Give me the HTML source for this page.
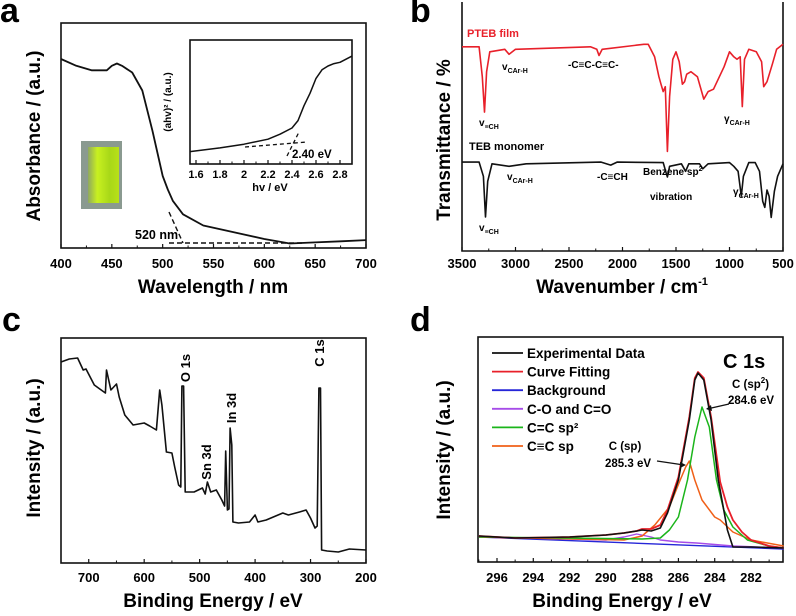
<!DOCTYPE html>
<html><head><meta charset="utf-8">
<style>
html,body{margin:0;padding:0;background:#fff;}
svg{display:block;font-family:"Liberation Sans",Arial,sans-serif;font-weight:bold;}
</style></head>
<body>
<svg id="fig" width="796" height="616" viewBox="0 0 796 616" xmlns="http://www.w3.org/2000/svg"></svg>
<script>
// ---------- Panel a: UV-vis absorbance ----------
const aWavelength = [400,415,430,445,450,455,460,470,480,490,500,505,510,520,540,560,580,600,625,650,675,700];
const aAbsorbance = [0.84,0.81,0.79,0.79,0.81,0.82,0.81,0.78,0.70,0.52,0.32,0.26,0.21,0.15,0.10,0.08,0.06,0.04,0.02,0.025,0.03,0.035];
const aTicks = [400,450,500,550,600,650,700];
// inset Tauc plot
const insetEnergy = [1.55,1.8,2.0,2.2,2.3,2.4,2.45,2.5,2.55,2.6,2.65,2.7,2.75,2.8,2.9];
const insetValue  = [0.10,0.13,0.16,0.20,0.24,0.29,0.35,0.47,0.57,0.69,0.76,0.79,0.81,0.82,0.87];
const insetTicks = [1.6,1.8,2.0,2.2,2.4,2.6,2.8];
// ---------- Panel b: FTIR ----------
const bTicks = [3500,3000,2500,2000,1500,1000,500];
const bRedWn = [3500,3340,3310,3290,3270,3240,3100,3060,3000,2300,2240,2220,2190,1800,1760,1700,1660,1640,1620,1600,1580,1560,1530,1500,1470,1440,1420,1400,1360,1300,1240,1200,1150,1050,1000,960,930,900,880,860,820,750,700,680,650,600,560,500];
const bRedT  = [82,82,70,55.8,72,80,81,79,81,82,81,78.5,81,83,83,78,70,67,64,66,40,62,77,80,76,67,68,71,72,70,61,64,65,74,80,78,77,78,58,77,81,80,76,66,68,75,81,83];
const bBlkWn = [3500,3340,3300,3280,3260,3220,3060,2900,2200,2110,2050,1620,1590,1580,1560,1450,1410,1380,1280,1250,1200,1000,960,920,890,870,820,760,720,690,670,650,630,610,580,550,500];
const bBlkT  = [35.7,35.7,30,13.7,28,35,34,35,35.7,34.5,35.7,35.5,31,29.7,34,35,32,35,35,33,35,35.5,34,32,22,30,35.5,35.5,32,20,17.5,24.5,22,13.5,24,30,35];
// ---------- Panel c: XPS survey ----------
const cTicks = [700,600,500,400,300,200];
const cEnergy = [750,735,720,710,705,690,680,670,668,660,650,645,635,620,600,590,578,572,568,560,550,545,538,534,532,529,526,510,495,490,486,480,470,460,455,453,450,447,445,442,440,430,410,400,395,380,350,340,320,308,300,292,288,285,282,280,270,250,230,200];
const cIntensity = [201,204,205,193,194,178,174,170,193,173,179,166,148,138,140,137,133,173,158,111,110,96,78,76,177,177,71,71,75,69,81,71,73,63,57,112,53,54,135,118,41,40,41,48,41,43,50,48,51,53,45,35,37,175,175,13,12,11,14,13];
// ---------- Panel d: C 1s ----------
const dTicks = [296,294,292,290,288,286,284,282];
const dExpE = [297,295,292,290,289,288.3,288,287.5,287,286.6,286,285.4,285.1,284.92,284.6,284.2,283.8,283.3,283.0,282,280.2];
const dExpI = [26,24,25,27,29,31,32,31,34,49,82,142,182,189,182,142,82,32,15,15,14];
const dFitE = [297,295,292,290,289,288.3,288,287.5,287,286.6,286,285.4,285.1,284.92,284.6,284.2,283.7,283.3,283,282.5,282,281,280.2];
const dFitI = [26,24,25,27,29,31,33,33,37,52,85,145,184,190,184,145,80,55,42,30,22,16,14];
const dBgE = [297,280.2];
const dBgI = [25,13];
const dCOE = [297,292,290,289,288.3,287.5,287,286,285,283,280.2];
const dCOI = [25,23,22,25,28,25,22,20,19,16,14];
const dSp2E = [297,288,287,286.5,286,285.5,285.1,284.7,284.3,283.9,283.5,283,282.2,281,280.2];
const dSp2I = [25,23,24,32,45,82,125,155,135,82,52,35,22,16,14];
const dSpE = [297,289,288,287.3,286.5,285.9,285.6,285.4,285.1,284.7,284,283.7,283,282,280.2];
const dSpI = [25,22,26,37,55,82,95,101,82,62,45,42,30,22,16];
const dLegend = ["Experimental Data","Curve Fitting","Background","C-O and C=O","C=C sp²","C≡C sp"];
const dColors = ["#111","#e8202a","#2626d8","#a64ce8","#1bb51b","#f06018"];

const NS="http://www.w3.org/2000/svg";
const svg=document.getElementById('fig');
function mk(tag,attrs,parent){const e=document.createElementNS(NS,tag);for(const k in attrs)e.setAttribute(k,attrs[k]);(parent||svg).appendChild(e);return e;}
function lin(d0,d1,r0,r1){return v=>r0+(v-d0)*(r1-r0)/(d1-d0);}
function txt(x,y,s,size,anchor,name,extra){const t=mk('text',Object.assign({x:x,y:y,'font-size':size,'text-anchor':anchor||'start'},extra||{}));t.textContent=s;


return t;}
function path(xs,ys,sx,sy,color,w,name){let d='';for(let i=0;i<xs.length;i++)d+=(i?'L':'M')+sx(xs[i]).toFixed(1)+' '+sy(ys[i]).toFixed(1);
const p=mk('path',{d:d,fill:'none',stroke:color,'stroke-width':w,'stroke-linejoin':'round'});


return p;}
function frame(x0,y0,x1,y1,name){const r=mk('rect',{x:x0,y:y0,width:x1-x0,height:y1-y0,fill:'none',stroke:'#111','stroke-width':1.6});


return r;}
function xticks(ticks,sx,yb,ly,size,name,minor){ticks.forEach(t=>{const x=sx(t);mk('line',{x1:x,x2:x,y1:yb,y2:yb-4,stroke:'#111','stroke-width':1.2});
txt(x,ly,String(t),size,'middle',name);});
if(minor)minor.forEach(t=>{const x=sx(t);mk('line',{x1:x,x2:x,y1:yb,y2:yb-2.5,stroke:'#111','stroke-width':1});});}

// ===== Panel a =====
txt(0,22,'a',34,'start','panel-label-a');
const aX=lin(400,700,61,366), aY=lin(0,1,248,23);
frame(61,23,366,248,'plot-frame-a');
xticks(aTicks,aX,248,268,13,'x-tick-label-a',[425,475,525,575,625,675]);
txt(213,293,'Wavelength / nm',19,'middle','x-axis-title-a');
txt(0,0,'Absorbance / (a.u.)',19,'middle','y-axis-title-a',{transform:'translate(40,136) rotate(-90)'});
path(aWavelength,aAbsorbance,aX,aY,'#111',1.8,'absorbance-curve');
mk('path',{d:'M169 212 L183 243 M169 243 L305 243',stroke:'#111','stroke-width':1.4,'stroke-dasharray':'5 3',fill:'none'});
txt(135,239,'520 nm',12.5,'start','annotation-520nm');
const g=mk('defs',{});
const lg=mk('linearGradient',{id:'gp',x1:0,y1:0,x2:1,y2:0},g);
mk('stop',{offset:0,'stop-color':'#8fa860'},lg);mk('stop',{offset:0.3,'stop-color':'#c8f020'},lg);mk('stop',{offset:0.7,'stop-color':'#a8d818'},lg);mk('stop',{offset:1,'stop-color':'#b8e018'},lg);
const ph=mk('rect',{x:81,y:141,width:41,height:68,fill:'#8a9a90'});

mk('rect',{x:88,y:147,width:31,height:56,fill:'url(#gp)'});
// inset
const iX=lin(1.6,2.8,196,340), iY=lin(0,1,164,40);
frame(190,40,352,164,'inset-frame');
xticks(insetTicks,iX,164,178,11,'inset-x-tick-label',[1.7,1.9,2.1,2.3,2.5,2.7]);
txt(270,191,'hv / eV',11,'middle','inset-x-axis-title');
txt(0,0,'(ahv)² / (a.u.)',10,'middle','inset-y-axis-title',{transform:'translate(171,102) rotate(-90)'});
path(insetEnergy,insetValue,iX,iY,'#111',1.5,'tauc-curve');
mk('path',{d:'M245 147 L307 142 M287 156 L299 132',stroke:'#111','stroke-width':1.3,'stroke-dasharray':'4 3',fill:'none'});
txt(292,158,'2.40 eV',11.5,'start','annotation-2.40ev');

// ===== Panel b =====
txt(410,22,'b',34,'start','panel-label-b');
const bX=lin(3500,500,462,783), bY=lin(0,100,251,2);
mk('path',{d:'M462 2 L462 251 L783 251 L783 2',fill:'none',stroke:'#111','stroke-width':1.6});
xticks(bTicks,bX,251,268,13,'x-tick-label-b',[3250,2750,2250,1750,1250,750]);
const bxt=txt(622,293,'Wavenumber / cm',19,'middle','x-axis-title-b');
const sup=mk('tspan',{'font-size':11,dy:-8},bxt);sup.textContent='-1';
txt(0,0,'Transmittance / %',19,'middle','y-axis-title-b',{transform:'translate(450,140) rotate(-90)'});
path(bRedWn,bRedT,bX,bY,'#e8202a',1.6,'pteb-film-spectrum');
path(bBlkWn,bBlkT,bX,bY,'#111',1.6,'teb-monomer-spectrum');
txt(467,37,'PTEB film',11,'start','legend-pteb-film',{fill:'#e8202a'});
txt(469,150,'TEB monomer',11,'start','legend-teb-monomer');
function lab(x,y,main,sub,name){const t=txt(x,y,main,10,'start',name);const s=mk('tspan',{'font-size':7,dy:3},t);s.textContent=sub;}
lab(479,126,'v','≡CH','label-nu-ch-red');
lab(502,70,'v','CAr-H','label-nu-car-red');
txt(568,68,'-C≡C-C≡C-',10,'start','label-diyne');
lab(724,122,'γ','CAr-H','label-gamma-red');
lab(507,180,'v','CAr-H','label-nu-car-black');
txt(597,180,'-C≡CH',10,'start','label-ethynyl');
const bz=txt(643,175,'Benzene sp',10,'start','label-benzene');const bs=mk('tspan',{'font-size':7,dy:-4},bz);bs.textContent='2';
txt(650,200,'vibration',10,'start','label-vibration');
lab(733,195,'γ','CAr-H','label-gamma-black');
lab(479,231,'v','≡CH','label-nu-ch-black');

// ===== Panel c =====
txt(2,331,'c',34,'start','panel-label-c');
const cX=lin(750,200,61,366), cY=lin(0,225,563,338);
frame(61,338,366,563,'plot-frame-c');
xticks(cTicks,cX,563,582,13,'x-tick-label-c',[750,650,550,450,350,250]);
txt(213,607,'Binding Energy / eV',19,'middle','x-axis-title-c');
txt(0,0,'Intensity / (a.u.)',19,'middle','y-axis-title-c',{transform:'translate(40,448) rotate(-90)'});
path(cEnergy,cIntensity,cX,cY,'#111',1.6,'xps-survey-curve');
txt(0,0,'O 1s',13,'middle','label-o1s',{transform:'translate(190,368) rotate(-90)'});
txt(0,0,'Sn 3d',13,'middle','label-sn3d',{transform:'translate(211,462) rotate(-90)'});
txt(0,0,'In 3d',13,'middle','label-in3d',{transform:'translate(236,408) rotate(-90)'});
txt(0,0,'C 1s',13,'middle','label-c1s',{transform:'translate(324,353) rotate(-90)'});

// ===== Panel d =====
txt(410,331,'d',34,'start','panel-label-d');
const dX=lin(296,282,497,751), dY=lin(0,200,562,362);
frame(478,337,783,562,'plot-frame-d');
xticks(dTicks,dX,562,582,13,'x-tick-label-d',[297,295,293,291,289,287,285,283,281]);
txt(622,607,'Binding Energy / eV',19,'middle','x-axis-title-d');
txt(0,0,'Intensity / (a.u.)',19,'middle','y-axis-title-d',{transform:'translate(450,450) rotate(-90)'});
path(dBgE,dBgI,dX,dY,dColors[2],1.4,'background-curve');
path(dCOE,dCOI,dX,dY,dColors[3],1.4,'co-component-curve');
path(dSpE,dSpI,dX,dY,dColors[5],1.5,'csp-component-curve');
path(dSp2E,dSp2I,dX,dY,dColors[4],1.5,'csp2-component-curve');
path(dFitE,dFitI,dX,dY,dColors[1],1.8,'curve-fitting');
path(dExpE,dExpI,dX,dY,dColors[0],1.6,'experimental-data-curve');
dLegend.forEach((s,i)=>{const y=353+i*18.6;
const l=mk('line',{x1:492,x2:523,y1:y,y2:y,stroke:dColors[i],'stroke-width':1.8});


txt(527,y+5,s,13.5,'start','legend-entry');});
txt(723,368,'C 1s',20,'start','label-c1s-title');
const sp2=txt(732,388,'C (sp',11.5,'start','label-csp2');const sp2s=mk('tspan',{'font-size':8,dy:-5},sp2);sp2s.textContent='2';const sp2c=mk('tspan',{'font-size':11.5,dy:5},sp2);sp2c.textContent=')';
txt(728,404,'284.6 eV',11.5,'start','label-284.6');
txt(625,450,'C (sp)',11.5,'middle','label-csp');
txt(605,467,'285.3 eV',11.5,'start','label-285.3');
mk('path',{d:'M729 404 L707 409 M657 461 L684 465',stroke:'#111','stroke-width':1.3,fill:'none'});
mk('path',{d:'M706 409 L711 405 L712 411 Z M686 465 L680 462 L680 468 Z',fill:'#111'});
</script>
</body></html>
